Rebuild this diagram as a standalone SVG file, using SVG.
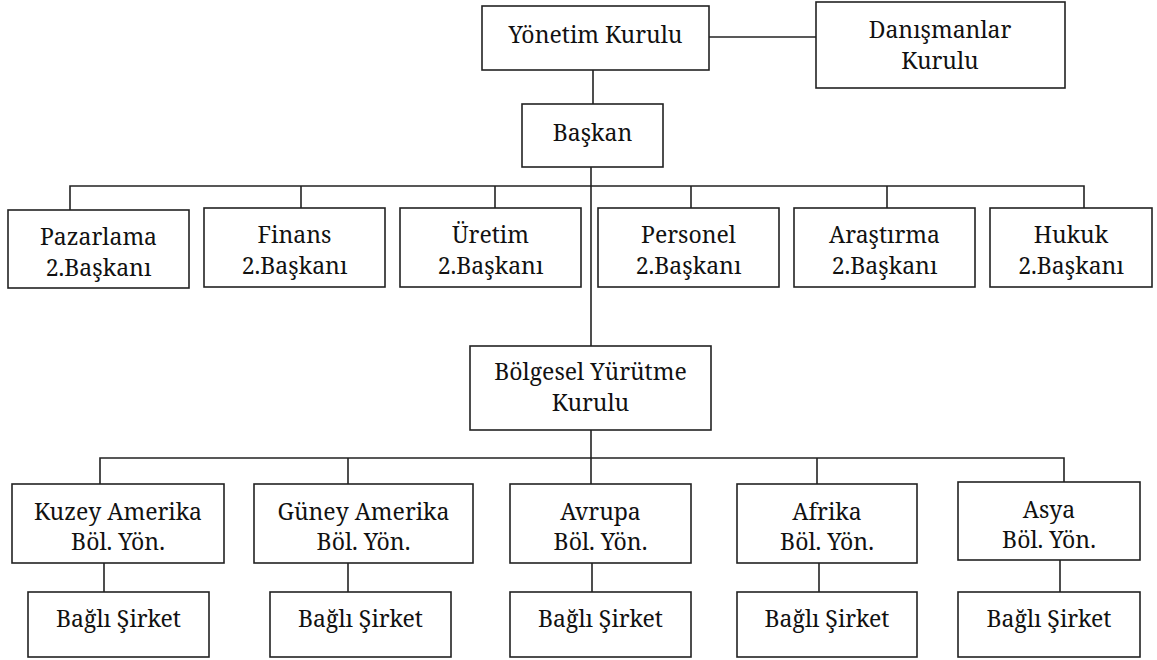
<svg xmlns="http://www.w3.org/2000/svg" width="1157" height="660" viewBox="0 0 1157 660">
<style>
rect.box{fill:#fff;stroke:#222;stroke-width:1.6}
.conn line,.conn polyline{stroke:#222;stroke-width:1.6;fill:none}
text{font-family:'Noto Serif','DejaVu Serif',serif;font-size:23px;fill:#111;text-anchor:middle}
</style>
<rect width="1157" height="660" fill="#fff"/>
<g class="conn" id="connectors">
<line x1="709" y1="37" x2="816" y2="37"/>
<line x1="593" y1="70" x2="593" y2="104"/>
<line x1="591" y1="167" x2="591" y2="346"/>
<polyline points="70,210 70,186 1084,186 1084,208"/>
<line x1="301" y1="186" x2="301" y2="208"/>
<line x1="495" y1="186" x2="495" y2="208"/>
<line x1="691" y1="186" x2="691" y2="208"/>
<line x1="887" y1="186" x2="887" y2="208"/>
<line x1="591" y1="430" x2="591" y2="484"/>
<polyline points="100,484 100,458 1064,458 1064,482"/>
<line x1="348" y1="458" x2="348" y2="484"/>
<line x1="817" y1="458" x2="817" y2="484"/>
<line x1="104" y1="563" x2="104" y2="592"/>
<line x1="348" y1="563" x2="348" y2="592"/>
<line x1="592" y1="563" x2="592" y2="592"/>
<line x1="819" y1="563" x2="819" y2="592"/>
<line x1="1060" y1="560" x2="1060" y2="592"/>
</g>
<g id="yonetim"><rect class="box" x="482" y="6" width="227" height="64"/><text x="595.5" y="43">Yönetim Kurulu</text></g>
<g id="danismanlar"><rect class="box" x="816" y="2" width="249" height="86"/><text x="940" y="38">Danışmanlar</text><text x="940" y="69">Kurulu</text></g>
<g id="baskan"><rect class="box" x="522" y="104" width="141" height="63"/><text x="592.5" y="141">Başkan</text></g>
<g id="pazarlama"><rect class="box" x="8" y="210" width="181" height="78"/><text x="98.5" y="245">Pazarlama</text><text x="98.5" y="276">2.Başkanı</text></g>
<g id="finans"><rect class="box" x="204" y="208" width="181" height="79"/><text x="294.5" y="243">Finans</text><text x="294.5" y="274">2.Başkanı</text></g>
<g id="uretim"><rect class="box" x="400" y="208" width="181" height="79"/><text x="490.5" y="243">Üretim</text><text x="490.5" y="274">2.Başkanı</text></g>
<g id="personel"><rect class="box" x="598" y="208" width="181" height="79"/><text x="688.5" y="243">Personel</text><text x="688.5" y="274">2.Başkanı</text></g>
<g id="arastirma"><rect class="box" x="794" y="208" width="181" height="79"/><text x="884.5" y="243">Araştırma</text><text x="884.5" y="274">2.Başkanı</text></g>
<g id="hukuk"><rect class="box" x="990" y="208" width="162" height="79"/><text x="1071" y="243">Hukuk</text><text x="1071" y="274">2.Başkanı</text></g>
<g id="bolgesel"><rect class="box" x="470" y="346" width="241" height="84"/><text x="590.5" y="380">Bölgesel Yürütme</text><text x="590.5" y="411">Kurulu</text></g>
<g id="kuzey"><rect class="box" x="12" y="484" width="212" height="79"/><text x="118" y="520">Kuzey Amerika</text><text x="118" y="550">Böl. Yön.</text></g>
<g id="guney"><rect class="box" x="254" y="484" width="219" height="79"/><text x="363.5" y="520">Güney Amerika</text><text x="363.5" y="550">Böl. Yön.</text></g>
<g id="avrupa"><rect class="box" x="510" y="484" width="181" height="79"/><text x="600.5" y="520">Avrupa</text><text x="600.5" y="550">Böl. Yön.</text></g>
<g id="afrika"><rect class="box" x="737" y="484" width="180" height="79"/><text x="827" y="520">Afrika</text><text x="827" y="550">Böl. Yön.</text></g>
<g id="asya"><rect class="box" x="958" y="482" width="182" height="78"/><text x="1049" y="518">Asya</text><text x="1049" y="548">Böl. Yön.</text></g>
<g id="bagli1"><rect class="box" x="28" y="592" width="181" height="65"/><text x="118.5" y="627">Bağlı Şirket</text></g>
<g id="bagli2"><rect class="box" x="270" y="592" width="181" height="65"/><text x="360.5" y="627">Bağlı Şirket</text></g>
<g id="bagli3"><rect class="box" x="510" y="592" width="181" height="65"/><text x="600.5" y="627">Bağlı Şirket</text></g>
<g id="bagli4"><rect class="box" x="737" y="592" width="180" height="65"/><text x="827" y="627">Bağlı Şirket</text></g>
<g id="bagli5"><rect class="box" x="958" y="592" width="182" height="65"/><text x="1049" y="627">Bağlı Şirket</text></g>
</svg>
